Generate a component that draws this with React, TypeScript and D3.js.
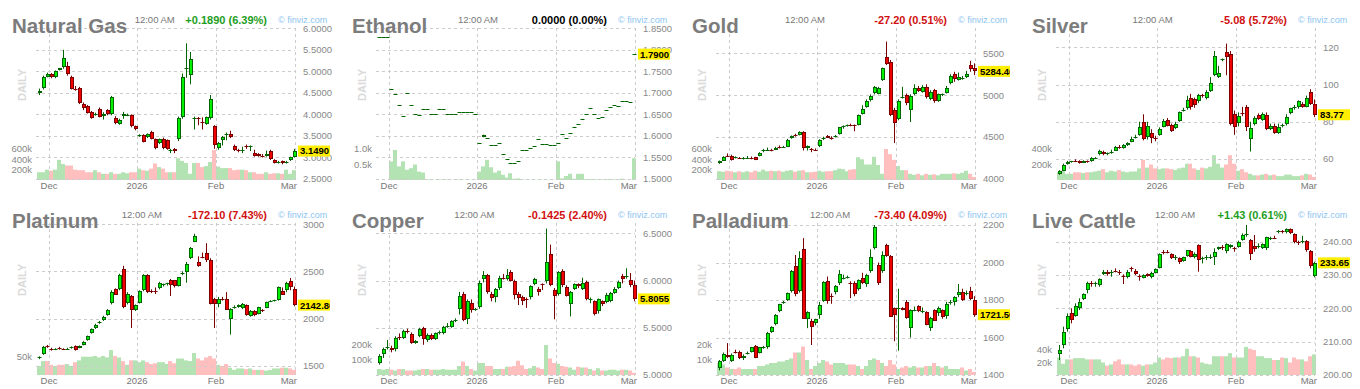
import React from 'react';
import * as d3 from 'd3';

type OHLC = [number, number, number, number];

// trading-day index of the first session in each month shown on the x axis
const monthLabels = ['Dec', '2026', 'Feb', 'Mar'];
const monthIndex = [3, 25, 45, 64];

// ---------- Natural Gas ----------
const natGasCandles: OHLC[] = [
  [4.50, 4.60, 4.45, 4.55], [4.62, 4.90, 4.58, 4.86], [4.88, 4.97, 4.86, 4.94], [4.93, 4.96, 4.84, 4.87],
  [4.86, 5.02, 4.84, 5.00], [5.04, 5.08, 5.02, 5.07], [5.10, 5.50, 5.06, 5.30], [5.12, 5.22, 4.90, 4.93],
  [4.88, 4.90, 4.58, 4.60], [4.60, 4.66, 4.55, 4.58], [4.62, 4.64, 4.24, 4.26], [4.25, 4.28, 4.10, 4.14],
  [4.20, 4.22, 4.02, 4.04], [4.05, 4.08, 3.90, 3.92], [3.99, 4.04, 3.97, 4.02], [4.12, 4.16, 3.93, 3.95],
  [3.97, 4.05, 3.88, 4.00], [4.10, 4.12, 3.98, 4.02], [4.02, 4.43, 3.98, 4.41], [3.92, 3.96, 3.77, 3.79],
  [3.78, 3.90, 3.76, 3.88], [3.97, 4.06, 3.90, 4.00], [3.99, 4.02, 3.96, 3.99], [3.99, 4.00, 3.70, 3.72],
  [3.72, 3.74, 3.63, 3.65], [3.52, 3.54, 3.48, 3.52], [3.52, 3.54, 3.35, 3.37], [3.47, 3.56, 3.45, 3.54],
  [3.58, 3.62, 3.42, 3.44], [3.42, 3.44, 3.19, 3.21], [3.33, 3.44, 3.31, 3.42], [3.42, 3.46, 3.19, 3.21],
  [3.40, 3.42, 3.18, 3.20], [3.16, 3.20, 3.10, 3.17], [3.20, 3.22, 3.10, 3.16], [3.44, 3.95, 3.38, 3.91],
  [3.95, 4.95, 3.90, 4.88], [5.06, 5.65, 4.85, 5.08], [4.92, 5.45, 4.70, 5.28], [3.91, 3.95, 3.65, 3.92],
  [3.92, 3.94, 3.75, 3.90], [3.82, 3.93, 3.65, 3.79], [3.78, 3.95, 3.76, 3.93], [3.91, 4.45, 3.88, 4.36],
  [3.73, 3.75, 3.20, 3.29], [3.21, 3.36, 3.18, 3.33], [3.40, 3.50, 3.28, 3.48], [3.52, 3.58, 3.40, 3.54],
  [3.54, 3.62, 3.45, 3.47], [3.26, 3.30, 3.15, 3.17], [3.17, 3.20, 3.12, 3.15], [3.16, 3.25, 3.10, 3.17],
  [3.26, 3.30, 3.20, 3.25], [3.25, 3.28, 3.15, 3.26], [3.10, 3.18, 3.02, 3.04], [3.08, 3.10, 3.02, 3.04],
  [3.04, 3.08, 3.00, 3.03], [3.04, 3.16, 3.02, 3.07], [3.16, 3.18, 2.94, 2.96], [2.94, 2.96, 2.86, 2.88],
  [2.88, 2.92, 2.86, 2.89], [2.91, 2.93, 2.84, 2.87], [2.88, 2.92, 2.86, 2.89], [2.94, 3.02, 2.92, 3.00],
  [3.02, 3.20, 3.00, 3.149],
];
const natGasVolume = [
  150, 150, 200, 180, 200, 390, 310, 280, 280, 200, 190, 190, 150, 150, 190, 150, 120, 120, 150, 120, 120, 150, 130, 150, 150,
  220, 190, 180, 220, 320, 250, 220, 150, 150, 150, 420, 370, 330, 120, 330, 330, 250, 270, 350,
  580, 260, 230, 230, 230, 190, 200, 200, 190, 150, 150, 120, 120, 150, 120, 130, 130, 120, 200, 120, 190,
];
const natGasTicks = [2.5, 3.0, 3.5, 4.0, 4.5, 5.0, 5.5, 6.0];
const natGasVolTicks = [200, 400, 600];

// ---------- Ethanol ----------
const ethanolCandles: OHLC[] = [
  [1.829, 1.829, 1.829, 1.829], [1.829, 1.829, 1.829, 1.829], [1.829, 1.829, 1.829, 1.829], [1.710, 1.710, 1.710, 1.710],
  [1.697, 1.697, 1.697, 1.697], [1.672, 1.672, 1.672, 1.672], [1.647, 1.647, 1.647, 1.647], [1.700, 1.700, 1.700, 1.700],
  [1.673, 1.673, 1.673, 1.673], [1.650, 1.650, 1.650, 1.650], [1.648, 1.648, 1.648, 1.648], [1.662, 1.662, 1.662, 1.662],
  [1.662, 1.662, 1.662, 1.662], [1.652, 1.652, 1.652, 1.652], [1.652, 1.652, 1.652, 1.652], [1.662, 1.662, 1.662, 1.662],
  [1.662, 1.662, 1.662, 1.662], [1.652, 1.652, 1.652, 1.652], [1.650, 1.650, 1.650, 1.650], [1.650, 1.650, 1.650, 1.650],
  [1.655, 1.655, 1.655, 1.655], [1.655, 1.655, 1.655, 1.655], [1.655, 1.655, 1.655, 1.655], [1.655, 1.655, 1.655, 1.655],
  [1.652, 1.652, 1.652, 1.652], [1.583, 1.583, 1.583, 1.583], [1.597, 1.603, 1.597, 1.602], [1.595, 1.595, 1.595, 1.595],
  [1.580, 1.580, 1.580, 1.580], [1.580, 1.580, 1.580, 1.580], [1.584, 1.584, 1.584, 1.584], [1.557, 1.557, 1.557, 1.557],
  [1.546, 1.546, 1.546, 1.546], [1.536, 1.536, 1.536, 1.536], [1.536, 1.536, 1.536, 1.536], [1.542, 1.542, 1.542, 1.542],
  [1.567, 1.567, 1.567, 1.567], [1.567, 1.567, 1.567, 1.567], [1.571, 1.571, 1.571, 1.571], [1.577, 1.577, 1.577, 1.577],
  [1.592, 1.592, 1.592, 1.592], [1.581, 1.581, 1.581, 1.581], [1.581, 1.581, 1.581, 1.581], [1.578, 1.578, 1.578, 1.578],
  [1.578, 1.578, 1.578, 1.578], [1.583, 1.583, 1.583, 1.583], [1.604, 1.604, 1.604, 1.604], [1.596, 1.596, 1.596, 1.596],
  [1.606, 1.606, 1.606, 1.606], [1.620, 1.620, 1.620, 1.620], [1.628, 1.628, 1.628, 1.628], [1.640, 1.640, 1.640, 1.640],
  [1.650, 1.650, 1.650, 1.650], [1.664, 1.664, 1.664, 1.664], [1.650, 1.650, 1.650, 1.650], [1.642, 1.642, 1.642, 1.642],
  [1.643, 1.643, 1.643, 1.643], [1.661, 1.661, 1.661, 1.661], [1.667, 1.667, 1.667, 1.667], [1.672, 1.672, 1.672, 1.672],
  [1.669, 1.669, 1.669, 1.669], [1.681, 1.681, 1.681, 1.681], [1.681, 1.681, 1.681, 1.681], [1.678, 1.678, 1.678, 1.678],
  [1.790, 1.790, 1.790, 1.790],
];
const ethanolVolume = [
  0, 0, 0, 0.6, 0.97, 0.44, 0.6, 0.33, 0.38, 0.5, 0.27, 0.24, 0.02, 0.02, 0.01, 0.02, 0.01, 0.02, 0.01, 0.01, 0.02, 0.01, 0.01, 0.01, 0.01,
  0.27, 0.44, 0.65, 0.41, 0.24, 0.3, 0.17, 0.08, 0.22, 0.04, 0.05, 0.02, 0.01, 0.01, 0.01, 0.01, 0.01, 0.01, 0.01, 0.01,
  0.6, 0.05, 0.13, 0.2, 0.04, 0.2, 0.2, 0.03, 0.03, 0.02, 0.02, 0.02, 0.02, 0.03, 0.02, 0.02, 0.04, 0.01, 0.01, 0.7,
];
const ethanolTicks = [1.5, 1.55, 1.6, 1.65, 1.7, 1.75, 1.8, 1.85];
const ethanolVolTicks = [0.5, 1.0];

// ---------- Gold ----------
const goldCandles: OHLC[] = [
  [4190, 4220, 4180, 4215], [4220, 4272, 4215, 4266], [4280, 4305, 4262, 4275], [4275, 4290, 4220, 4228],
  [4255, 4270, 4245, 4260], [4252, 4262, 4240, 4245], [4240, 4262, 4232, 4250], [4250, 4275, 4240, 4255],
  [4255, 4268, 4235, 4240], [4260, 4265, 4225, 4230], [4280, 4320, 4270, 4310], [4330, 4360, 4320, 4345],
  [4345, 4375, 4335, 4350], [4350, 4360, 4330, 4338], [4350, 4385, 4345, 4370], [4380, 4400, 4365, 4375],
  [4375, 4395, 4370, 4385], [4385, 4480, 4380, 4470], [4490, 4520, 4480, 4515], [4525, 4540, 4505, 4515],
  [4530, 4570, 4520, 4555], [4560, 4570, 4340, 4370], [4365, 4400, 4340, 4390], [4360, 4370, 4320, 4355],
  [4350, 4365, 4335, 4340], [4390, 4475, 4380, 4465], [4475, 4505, 4465, 4495], [4515, 4525, 4490, 4495],
  [4490, 4510, 4470, 4485], [4500, 4525, 4495, 4515], [4540, 4620, 4530, 4615], [4615, 4640, 4600, 4630],
  [4635, 4650, 4625, 4645], [4650, 4660, 4630, 4645], [4645, 4650, 4570, 4630], [4650, 4770, 4640, 4760],
  [4780, 4880, 4770, 4840], [4860, 4950, 4850, 4925], [4940, 5010, 4925, 4995], [5025, 5110, 5010, 5095],
  [5020, 5100, 5010, 5090], [5180, 5330, 5170, 5320], [5450, 5640, 5360, 5375], [5400, 5420, 4750, 4765],
  [4820, 4850, 4430, 4665], [4720, 4950, 4700, 4935], [4970, 5100, 4960, 4975], [5000, 5020, 4880, 4910],
  [4825, 5010, 4680, 4990], [5020, 5130, 5000, 5080], [5090, 5110, 5040, 5050], [5040, 5120, 5030, 5095],
  [5100, 5130, 4960, 4975], [4950, 5060, 4940, 5040], [5060, 5075, 4910, 4925], [4925, 5020, 4920, 5010],
  [5000, 5020, 4990, 5010], [5030, 5110, 5020, 5090], [5140, 5250, 5130, 5230], [5250, 5280, 5160, 5190],
  [5185, 5270, 5175, 5220], [5200, 5230, 5185, 5205], [5215, 5290, 5205, 5255], [5355, 5410, 5280, 5310],
  [5330, 5380, 5240, 5284.4],
];
const goldVolume = [
  170, 160, 180, 170, 150, 170, 150, 170, 150, 180, 160, 200, 170, 180, 170, 180, 160, 180, 190, 160, 180, 190, 150, 150, 160,
  180, 160, 170, 170, 190, 220, 210, 170, 200, 210, 440, 400, 300, 300, 450, 290, 120, 600, 500, 390,
  270, 190, 190, 120, 100, 120, 90, 120, 100, 110, 90, 120, 120, 120, 130, 120, 140, 180, 120, 60,
];
const goldTicks = [4000, 4500, 5000, 5500];
const goldVolTicks = [200, 400, 600];

// ---------- Silver ----------
const silverCandles: OHLC[] = [
  [52.0, 54.0, 51.5, 53.6], [53.8, 57.5, 53.5, 56.8], [57.3, 59.0, 57.0, 58.6], [58.4, 59.0, 58.0, 58.7],
  [59.0, 59.8, 58.5, 58.9], [58.8, 59.3, 57.5, 57.9], [58.0, 59.3, 57.8, 58.9], [58.8, 59.2, 58.0, 58.5],
  [58.9, 61.0, 58.5, 60.4], [60.4, 61.0, 60.0, 60.6], [62.5, 65.0, 62.0, 64.3], [64.0, 64.5, 62.0, 62.5],
  [62.5, 63.5, 62.0, 63.0], [63.0, 65.0, 62.8, 64.0], [64.5, 67.0, 64.3, 66.6], [66.6, 67.5, 65.5, 65.7],
  [65.7, 68.0, 65.5, 67.5], [67.5, 69.0, 67.0, 68.5], [69.3, 72.0, 69.0, 71.0], [71.5, 73.0, 71.0, 72.0],
  [72.9, 80.0, 72.5, 77.4], [79.7, 84.0, 70.0, 70.6], [72.0, 80.0, 70.5, 77.7], [74.2, 76.0, 68.5, 71.1],
  [71.2, 72.5, 69.5, 71.0], [72.9, 77.0, 72.5, 76.0], [77.4, 81.5, 77.0, 80.5], [81.0, 82.0, 77.5, 77.7],
  [78.0, 79.0, 74.5, 75.2], [76.5, 80.0, 76.0, 79.0], [80.6, 85.5, 80.0, 85.1], [86.0, 87.5, 85.5, 86.5],
  [87.2, 94.0, 86.5, 91.7], [93.0, 95.0, 86.5, 87.8], [92.0, 93.0, 87.5, 89.0], [91.0, 95.0, 90.0, 94.4],
  [94.2, 95.0, 93.0, 93.8], [92.5, 97.0, 92.0, 95.8], [96.7, 104.0, 96.0, 101.0], [105.0, 118.0, 104.5, 115.3],
  [104.2, 110.0, 103.5, 106.3], [113.0, 114.0, 112.5, 113.5], [117.3, 122.0, 105.0, 115.0], [116.4, 118.0, 78.0, 78.8],
  [84.2, 86.0, 73.0, 77.4], [79.5, 85.0, 77.5, 83.0], [84.5, 88.0, 83.0, 84.3], [88.0, 89.0, 75.0, 77.0],
  [70.5, 80.0, 64.0, 76.5], [78.8, 83.0, 78.0, 81.8], [83.4, 84.5, 81.0, 81.3], [81.0, 85.0, 80.5, 84.0],
  [83.7, 85.0, 75.5, 76.0], [76.0, 79.0, 75.5, 77.7], [77.7, 79.0, 73.5, 74.2], [74.2, 79.0, 73.5, 77.4],
  [77.5, 79.0, 77.0, 78.0], [78.8, 84.0, 78.0, 82.7], [84.8, 87.5, 84.0, 87.2], [87.5, 89.0, 86.5, 87.8],
  [87.8, 91.5, 87.0, 91.1], [89.8, 90.5, 87.5, 88.1], [88.0, 94.0, 87.8, 93.0], [95.8, 97.5, 89.0, 89.5],
  [89.3, 92.0, 82.5, 83.77],
];
const silverVolume = [
  100, 120, 80, 80, 100, 100, 90, 100, 100, 110, 120, 140, 100, 120, 110, 130, 110, 100, 110, 110, 150, 260, 160, 200, 150,
  140, 150, 150, 140, 130, 150, 160, 210, 210, 150, 130, 160, 150, 170, 320, 210, 160, 200, 320, 210,
  120, 140, 100, 80, 60, 60, 70, 80, 60, 70, 50, 50, 70, 70, 50, 50, 60, 80, 70, 40,
];
const silverTicks = [60, 80, 100, 120];
const silverVolTicks = [200, 400];

// ---------- Platinum ----------
const platinumCandles: OHLC[] = [
  [1580, 1600, 1570, 1590], [1620, 1710, 1615, 1700], [1705, 1720, 1690, 1695], [1680, 1690, 1660, 1670],
  [1675, 1685, 1665, 1676], [1690, 1700, 1670, 1680], [1676, 1685, 1670, 1675], [1675, 1690, 1668, 1678],
  [1683, 1705, 1680, 1700], [1710, 1715, 1660, 1665], [1690, 1715, 1685, 1710], [1720, 1760, 1715, 1754],
  [1772, 1820, 1765, 1815], [1845, 1895, 1840, 1885], [1895, 1945, 1890, 1935], [1950, 1975, 1945, 1965],
  [1980, 2030, 1975, 2020], [2035, 2100, 2030, 2095], [2160, 2300, 2150, 2285], [2310, 2320, 2250, 2255],
  [2310, 2475, 2300, 2465], [2530, 2560, 2110, 2125], [2170, 2280, 2150, 2260], [2240, 2250, 1900, 2090],
  [2090, 2150, 2080, 2140], [2170, 2300, 2160, 2290], [2300, 2470, 2290, 2460], [2460, 2470, 2270, 2285],
  [2290, 2310, 2270, 2280], [2295, 2330, 2260, 2290], [2320, 2390, 2310, 2380], [2355, 2370, 2340, 2365],
  [2365, 2380, 2350, 2375], [2405, 2420, 2240, 2355], [2405, 2410, 2330, 2345], [2350, 2440, 2340, 2440],
  [2475, 2500, 2460, 2485], [2495, 2600, 2380, 2580], [2640, 2760, 2630, 2750], [2815, 2900, 2810, 2880],
  [2605, 2660, 2550, 2555], [2650, 2700, 2640, 2645], [2700, 2800, 2600, 2620], [2620, 2640, 2150, 2155],
  [2210, 2220, 1900, 2150], [2150, 2230, 2120, 2210], [2210, 2230, 2190, 2200], [2210, 2280, 2090, 2090],
  [2000, 2110, 1830, 2100], [2120, 2140, 2105, 2125], [2125, 2150, 2115, 2140], [2110, 2165, 2100, 2150],
  [2140, 2150, 2030, 2040], [2030, 2090, 2020, 2080], [2085, 2090, 2025, 2035], [2050, 2125, 2045, 2120],
  [2090, 2100, 2070, 2085], [2115, 2180, 2110, 2175], [2180, 2195, 2175, 2185], [2185, 2200, 2180, 2195],
  [2195, 2340, 2190, 2335], [2290, 2330, 2250, 2255], [2300, 2390, 2280, 2375], [2395, 2430, 2300, 2330],
  [2310, 2340, 2130, 2142.8],
];
const platinumVolume = [
  25, 38, 38, 28, 25, 28, 28, 30, 25, 35, 40, 50, 50, 50, 52, 48, 52, 48, 68, 52, 48, 38, 28, 40, 40,
  35, 40, 35, 30, 32, 35, 35, 30, 38, 32, 45, 45, 40, 38, 60, 45, 40, 48, 52, 45,
  28, 25, 30, 20, 14, 18, 18, 16, 18, 14, 14, 14, 12, 14, 18, 18, 20, 20, 18, 14,
];
const platinumTicks = [1500, 2000, 2500, 3000];
const platinumVolTicks = [50];

// ---------- Copper ----------
const copperCandles: OHLC[] = [
  [5.13, 5.22, 5.11, 5.20], [5.22, 5.29, 5.18, 5.28], [5.29, 5.37, 5.27, 5.30], [5.29, 5.31, 5.24, 5.26],
  [5.27, 5.41, 5.25, 5.39], [5.40, 5.44, 5.37, 5.39], [5.39, 5.48, 5.38, 5.47], [5.47, 5.49, 5.44, 5.46],
  [5.43, 5.45, 5.33, 5.34], [5.34, 5.37, 5.33, 5.36], [5.41, 5.50, 5.40, 5.49], [5.50, 5.51, 5.32, 5.38],
  [5.37, 5.44, 5.35, 5.42], [5.42, 5.44, 5.37, 5.38], [5.38, 5.45, 5.37, 5.44], [5.44, 5.47, 5.43, 5.45],
  [5.44, 5.52, 5.43, 5.51], [5.51, 5.55, 5.50, 5.52], [5.51, 5.58, 5.50, 5.57], [5.57, 5.60, 5.56, 5.58],
  [5.70, 5.88, 5.64, 5.84], [5.86, 5.88, 5.57, 5.58], [5.59, 5.80, 5.54, 5.78], [5.76, 5.80, 5.66, 5.69],
  [5.69, 5.71, 5.68, 5.70], [5.72, 6.00, 5.70, 5.97], [6.02, 6.10, 5.98, 6.06], [6.06, 6.07, 5.86, 5.88],
  [5.86, 5.88, 5.78, 5.81], [5.83, 5.92, 5.77, 5.91], [5.92, 6.05, 5.90, 6.03], [6.03, 6.07, 6.01, 6.02],
  [6.02, 6.12, 6.00, 6.06], [6.09, 6.11, 5.99, 6.00], [5.99, 6.01, 5.80, 5.85], [5.86, 5.88, 5.74, 5.81],
  [5.83, 5.84, 5.74, 5.78], [5.80, 5.82, 5.71, 5.79], [5.83, 5.95, 5.80, 5.94], [5.96, 6.03, 5.95, 6.02],
  [5.91, 5.93, 5.84, 5.88], [5.96, 5.97, 5.90, 5.95], [6.00, 6.55, 5.97, 6.20], [6.28, 6.38, 5.94, 5.95],
  [5.90, 5.92, 5.59, 5.84], [5.86, 6.10, 5.84, 6.09], [6.10, 6.12, 5.93, 5.95], [5.93, 5.95, 5.83, 5.84],
  [5.75, 5.89, 5.62, 5.88], [5.91, 5.97, 5.90, 5.96], [5.96, 5.97, 5.92, 5.94], [5.91, 6.03, 5.90, 5.97],
  [5.98, 6.00, 5.79, 5.80], [5.79, 5.82, 5.76, 5.80], [5.78, 5.79, 5.63, 5.65], [5.68, 5.81, 5.65, 5.80],
  [5.78, 5.79, 5.73, 5.75], [5.77, 5.87, 5.76, 5.85], [5.78, 5.88, 5.77, 5.87], [5.87, 5.93, 5.86, 5.91],
  [5.92, 6.00, 5.91, 5.98], [6.05, 6.07, 5.97, 6.02], [6.04, 6.13, 6.02, 6.05], [6.01, 6.08, 5.93, 5.95],
  [5.95, 6.00, 5.78, 5.8055],
];
const copperVolume = [
  40, 35, 40, 35, 30, 40, 40, 30, 30, 30, 35, 40, 40, 35, 35, 35, 40, 35, 35, 35, 60, 90, 60, 40, 30,
  80, 80, 60, 60, 40, 40, 40, 55, 55, 60, 95, 65, 40, 45, 60, 50, 40, 200, 110, 80,
  75, 60, 55, 50, 35, 55, 50, 50, 40, 30, 45, 30, 30, 35, 35, 30, 35, 35, 30, 15,
];
const copperTicks = [5.0, 5.5, 6.0, 6.5];
const copperVolTicks = [100, 200];

// ---------- Palladium ----------
const palladiumCandles: OHLC[] = [
  [1440, 1480, 1425, 1475], [1475, 1520, 1470, 1510], [1505, 1570, 1490, 1495], [1475, 1515, 1470, 1508],
  [1525, 1535, 1515, 1522], [1525, 1530, 1485, 1490], [1490, 1510, 1480, 1503], [1518, 1525, 1510, 1520],
  [1523, 1550, 1520, 1547], [1555, 1560, 1490, 1492], [1520, 1550, 1515, 1547], [1545, 1555, 1540, 1548],
  [1550, 1630, 1540, 1625], [1630, 1660, 1625, 1658], [1672, 1725, 1665, 1722], [1740, 1780, 1735, 1778],
  [1785, 1795, 1780, 1790], [1800, 1840, 1795, 1835], [1850, 1960, 1840, 1955], [1980, 2040, 1820, 1830],
  [1850, 2060, 1840, 2025], [2070, 2130, 1700, 1700], [1700, 1740, 1650, 1735], [1690, 1700, 1560, 1655],
  [1675, 1700, 1665, 1700], [1720, 1790, 1700, 1775], [1795, 1900, 1790, 1895], [1900, 1925, 1780, 1795],
  [1820, 1835, 1780, 1818], [1845, 1880, 1830, 1875], [1890, 1960, 1880, 1940], [1915, 1935, 1910, 1920],
  [1920, 1930, 1915, 1925], [1890, 1900, 1810, 1885], [1890, 1900, 1820, 1830], [1860, 1910, 1850, 1905],
  [1918, 1945, 1885, 1890], [1885, 1940, 1870, 1935], [1955, 2070, 1945, 2030], [2075, 2200, 2070, 2190],
  [1985, 2000, 1880, 1890], [1955, 2060, 1945, 2040], [2095, 2100, 2030, 2035], [2035, 2040, 1710, 1712],
  [1755, 1760, 1580, 1720], [1750, 1860, 1530, 1758], [1755, 1762, 1745, 1748], [1790, 1800, 1700, 1705],
  [1650, 1750, 1600, 1745], [1745, 1765, 1740, 1748], [1767, 1772, 1735, 1740], [1738, 1760, 1730, 1742],
  [1735, 1740, 1665, 1668], [1650, 1710, 1635, 1705], [1745, 1750, 1690, 1690], [1730, 1765, 1715, 1760],
  [1745, 1750, 1700, 1710], [1715, 1790, 1700, 1780], [1785, 1800, 1775, 1792], [1790, 1820, 1770, 1815],
  [1825, 1885, 1815, 1840], [1840, 1860, 1795, 1800], [1830, 1850, 1825, 1835], [1850, 1870, 1800, 1805],
  [1800, 1820, 1710, 1721.5],
];
const palladiumVolume = [
  8, 7, 5, 4, 4, 5, 4, 4, 4, 4, 6, 6, 7, 8, 8, 9, 9, 10, 11, 15, 15, 19, 10, 4, 6,
  8, 10, 9, 7, 8, 8, 8, 7, 7, 7, 6, 4, 6, 10, 11, 10, 8, 6, 10, 7,
  4, 5, 6, 5, 6, 5, 5, 6, 6, 8, 6, 5, 6, 4, 4, 4, 5, 3, 4, 2,
];
const palladiumTicks = [1400, 1600, 1800, 2000, 2200];
const palladiumVolTicks = [10, 20];

// ---------- Live Cattle ----------
const cattleCandles: OHLC[] = [
  [206.2, 209.0, 204.5, 207.5], [209.0, 214.5, 208.0, 213.0], [213.8, 218.5, 213.0, 217.8], [218.5, 220.0, 215.5, 216.5],
  [217.8, 221.5, 217.5, 220.8], [220.2, 223.0, 219.5, 222.0], [222.8, 224.5, 222.5, 224.2], [225.5, 228.0, 224.5, 227.5],
  [227.6, 228.2, 226.5, 227.5], [227.5, 228.0, 226.5, 227.5], [227.0, 229.0, 226.5, 228.7], [230.2, 231.5, 230.0, 231.0],
  [231.0, 231.5, 229.8, 230.3], [230.5, 231.5, 229.5, 230.8], [231.3, 232.0, 230.8, 231.1], [231.0, 231.5, 230.0, 230.5],
  [229.8, 230.2, 227.3, 229.5], [229.5, 231.5, 229.0, 231.0], [232.0, 232.5, 231.0, 231.8], [231.3, 231.8, 230.0, 230.2],
  [229.8, 230.2, 228.3, 229.6], [229.2, 230.2, 229.0, 230.0], [230.2, 230.5, 229.5, 229.7], [229.5, 231.0, 229.0, 230.7],
  [230.7, 232.0, 230.5, 231.8], [232.2, 236.5, 232.0, 236.2], [236.8, 237.5, 236.2, 236.6], [237.0, 237.5, 236.5, 236.8],
  [236.2, 236.5, 234.8, 235.0], [235.0, 236.0, 234.5, 235.5], [235.0, 235.3, 233.3, 234.0], [234.3, 235.5, 234.0, 235.3],
  [235.8, 237.5, 235.5, 237.5], [237.3, 237.5, 235.3, 235.5], [235.3, 236.8, 235.0, 236.2], [239.0, 239.2, 231.0, 234.5],
  [235.0, 235.5, 233.5, 235.2], [235.2, 236.0, 234.5, 235.3], [235.3, 236.2, 234.8, 235.4], [235.5, 238.0, 233.0, 237.0],
  [237.8, 238.5, 237.5, 238.5], [238.3, 239.0, 237.5, 238.2], [237.2, 239.5, 236.5, 239.2], [238.5, 239.2, 238.0, 239.0],
  [238.0, 238.5, 237.0, 237.8], [238.5, 240.3, 238.2, 240.0], [240.5, 242.5, 240.3, 242.0], [242.3, 245.0, 241.5, 242.3],
  [240.5, 240.8, 234.5, 236.2], [238.7, 242.0, 237.0, 237.7], [238.8, 239.5, 238.0, 238.8], [238.2, 239.5, 237.8, 239.2],
  [238.0, 241.5, 237.5, 241.5], [241.2, 241.5, 240.5, 241.2], [241.2, 241.8, 240.8, 241.0], [243.0, 243.5, 242.5, 243.3],
  [243.2, 243.5, 242.5, 242.8], [242.8, 244.0, 242.5, 243.8], [243.7, 244.0, 242.3, 242.6], [242.2, 242.5, 239.5, 239.8],
  [239.9, 240.3, 239.0, 239.6], [240.0, 241.8, 239.5, 240.2], [240.2, 240.5, 237.0, 237.5], [237.2, 237.5, 232.0, 232.8],
  [229.8, 234.0, 229.3, 233.65],
];
const cattleVolume = [
  28, 18, 25, 25, 27, 27, 27, 25, 25, 25, 25, 20, 15, 17, 22, 25, 17, 17, 17, 15, 17, 15, 17, 17, 20,
  28, 25, 28, 27, 28, 28, 30, 42, 30, 30, 28, 20, 18, 17, 30, 30, 30, 30, 35, 28,
  28, 28, 45, 42, 40, 30, 30, 27, 27, 24, 24, 28, 27, 20, 28, 25, 25, 22, 30, 33,
];
const cattleTicks = [200, 210, 220, 230, 240];
const cattleVolTicks = [20, 40];

// ---------- layout ----------
const PANEL_W = 340;
const PANEL_H = 195;
const PLOT_LEFT = 36;
const PLOT_RIGHT = 295;
const PLOT_TOP = 28;
const PLOT_BOTTOM = 180;
const FONT = '"Liberation Sans", Arial, sans-serif';

const UP_FILL = '#00f000';
const UP_LINE = '#006400';
const DOWN_FILL = '#f00000';
const DOWN_LINE = '#7a0000';
const VOL_UP = '#b3e2b3';
const VOL_DOWN = '#ffbfbf';
const GRID = '#cccccc';

interface PanelDef {
  title: string;
  change: string;
  changeColor: string;
  candles: OHLC[];
  volume: number[];
  ticks: number[];
  decimals: number;
  priceRange: [number, number]; // pixel y of first / last tick
  volTicks: number[];
  volTopY: number; // pixel y of last volume tick
  volFmt: (v: number) => string;
  last: string;
}

const panels: PanelDef[] = [
  { title: 'Natural Gas', change: '+0.1890 (6.39%)', changeColor: '#1e9e1e', candles: natGasCandles, volume: natGasVolume,
    ticks: natGasTicks, decimals: 4, priceRange: [179, 28.3], volTicks: natGasVolTicks, volTopY: 149, volFmt: v => `${v}k`, last: '3.1490' },
  { title: 'Ethanol', change: '0.0000 (0.00%)', changeColor: '#000000', candles: ethanolCandles, volume: ethanolVolume,
    ticks: ethanolTicks, decimals: 4, priceRange: [179, 28.3], volTicks: ethanolVolTicks, volTopY: 149, volFmt: v => `${v.toFixed(1)}k`, last: '1.7900' },
  { title: 'Gold', change: '-27.20 (0.51%)', changeColor: '#d01010', candles: goldCandles, volume: goldVolume,
    ticks: goldTicks, decimals: 0, priceRange: [179, 53.3], volTicks: goldVolTicks, volTopY: 149, volFmt: v => `${v}k`, last: '5284.40' },
  { title: 'Silver', change: '-5.08 (5.72%)', changeColor: '#d01010', candles: silverCandles, volume: silverVolume,
    ticks: silverTicks, decimals: 0, priceRange: [159, 47.3], volTicks: silverVolTicks, volTopY: 149, volFmt: v => `${v}k`, last: '83.77' },
  { title: 'Platinum', change: '-172.10 (7.43%)', changeColor: '#d01010', candles: platinumCandles, volume: platinumVolume,
    ticks: platinumTicks, decimals: 0, priceRange: [170.7, 29.3], volTicks: platinumVolTicks, volTopY: 161.7, volFmt: v => `${v}k`, last: '2142.80' },
  { title: 'Copper', change: '-0.1425 (2.40%)', changeColor: '#d01010', candles: copperCandles, volume: copperVolume,
    ticks: copperTicks, decimals: 4, priceRange: [180, 38.3], volTicks: copperVolTicks, volTopY: 150, volFmt: v => `${v}k`, last: '5.8055' },
  { title: 'Palladium', change: '-73.40 (4.09%)', changeColor: '#d01010', candles: palladiumCandles, volume: palladiumVolume,
    ticks: palladiumTicks, decimals: 0, priceRange: [180, 30], volTicks: palladiumVolTicks, volTopY: 150, volFmt: v => `${v}k`, last: '1721.50' },
  { title: 'Live Cattle', change: '+1.43 (0.61%)', changeColor: '#1e9e1e', candles: cattleCandles, volume: cattleVolume,
    ticks: cattleTicks, decimals: 2, priceRange: [180, 46.7], volTicks: cattleVolTicks, volTopY: 155, volFmt: v => `${v}k`, last: '233.65' },
];

const xScale = d3.scaleLinear().domain([0, 64]).range([38.7, 294.3]);
const cx = (i: number) => Math.round(xScale(i)) + 0.5;

// text width through a canvas, used to centre the time stamp between title and change
let measureCtx: CanvasRenderingContext2D | null = null;
function textWidth(text: string, font: string): number {
  if (!measureCtx) measureCtx = document.createElement('canvas').getContext('2d');
  if (!measureCtx) return text.length * 6;
  measureCtx.font = font;
  return measureCtx.measureText(text).width;
}

const Panel: React.FC<{ def: PanelDef; col: number; row: number }> = ({ def, col, row }) => {
  const ox = col * PANEL_W;
  const oy = row * PANEL_H;
  const t = def.ticks;
  const y = d3.scaleLinear().domain([t[0], t[t.length - 1]]).range(def.priceRange);
  const vt = def.volTicks;
  const v = d3.scaleLinear().domain([0, vt[vt.length - 1]]).range([PLOT_BOTTOM, def.volTopY]);
  const fmt = d3.format(`.${def.decimals}f`);
  const lastY = y(def.candles[def.candles.length - 1][3]);
  const clipId = `clip-${col}-${row}`;

  const gridX = monthIndex.map((idx, k) => (k === monthIndex.length - 1 ? PLOT_RIGHT : Math.round(xScale(idx)) - 2));

  const titleEnd = 12 + textWidth(def.title, `bold 20.5px "Liberation Sans"`);
  const changeStart = 267 - textWidth(def.change, `bold 11px "Liberation Sans"`);
  const timeX = (titleEnd + changeStart) / 2 - 1.5;

  return (
    <g transform={`translate(${ox},${oy})`} fontFamily={FONT}>
      <defs>
        <clipPath id={clipId}>
          <rect x={0} y={0} width={330} height={PANEL_H} />
        </clipPath>
      </defs>

      {/* volume */}
      {def.volume.map((vol, i) => {
        const [o, , , c] = def.candles[i];
        const top = v(vol);
        return (
          <rect key={`v${i}`} x={Math.round(xScale(i)) - 2} y={top} width={4} height={Math.max(0, PLOT_BOTTOM - top)}
            fill={c >= o ? VOL_UP : VOL_DOWN} />
        );
      })}

      {/* grid */}
      {t.filter(d => y(d) >= PLOT_TOP - 1 && y(d) <= PLOT_BOTTOM + 1).map(d => (
        <line key={`g${d}`} x1={PLOT_LEFT} x2={PLOT_RIGHT} y1={Math.round(y(d)) + 0.5} y2={Math.round(y(d)) + 0.5}
          stroke={GRID} strokeDasharray="3,3" />
      ))}
      {gridX.map((gx, k) => (
        <line key={`gx${k}`} x1={gx + 0.5} x2={gx + 0.5} y1={PLOT_TOP} y2={PLOT_BOTTOM} stroke={GRID} strokeDasharray="3,3" />
      ))}

      {/* candles */}
      {def.candles.map(([o, h, l, c], i) => {
        const up = c >= o;
        const line = up ? UP_LINE : DOWN_LINE;
        const fill = up ? UP_FILL : DOWN_FILL;
        const x = cx(i);
        const yTop = Math.round(y(Math.max(o, c)));
        const yBot = Math.round(y(Math.min(o, c)));
        return (
          <g key={`c${i}`}>
            <line x1={x} x2={x} y1={y(h)} y2={y(l)} stroke={line} strokeWidth={1} />
            {yBot - yTop < 2 ? (
              <line x1={x - 2} x2={x + 2} y1={yTop + 0.5} y2={yTop + 0.5} stroke={line} strokeWidth={1} />
            ) : (
              <rect x={x - 1} y={yTop + 0.5} width={3} height={yBot - yTop - 1} fill={fill} stroke={line} strokeWidth={1} />
            )}
          </g>
        );
      })}

      {/* y tick labels */}
      {t.map(d => (
        <text key={`t${d}`} x={303} y={y(d)} dy="0.35em" fontSize={9.5} fill="#888">{fmt(d)}</text>
      ))}

      {/* x labels */}
      {monthLabels.map((lab, k) => (
        <text key={`m${k}`} x={k === monthLabels.length - 1 ? 297 : gridX[k]} y={189}
          textAnchor={k === monthLabels.length - 1 ? 'end' : 'middle'} fontSize={9.5} fill="#777">{lab}</text>
      ))}

      {/* volume labels */}
      {vt.map(d => (
        <text key={`vl${d}`} x={32} y={v(d)} dy="0.35em" textAnchor="end" fontSize={9.5} fill="#888">{def.volFmt(d)}</text>
      ))}

      {/* DAILY */}
      <text transform="translate(26,85) rotate(-90)" textAnchor="middle" fontSize={11} fontWeight="bold" fill="#dadada">DAILY</text>

      {/* header */}
      <text x={12} y={33} fontSize={20.5} fontWeight="bold" fill="#7c7c7c">{def.title}</text>
      <text x={timeX} y={23} textAnchor="middle" fontSize={9.5} fill="#777">12:00 AM</text>
      <text x={267} y={24} textAnchor="end" fontSize={11} fontWeight="bold" fill={def.changeColor}>{def.change}</text>
      <text x={278} y={23} fontSize={9} fill="#8cc4f2">© finviz.com</text>

      {/* last price box */}
      <g clipPath={`url(#${clipId})`}>
        <rect x={298} y={lastY - 5.5} width={34} height={11} fill="#ffee00" />
        <text x={300} y={lastY} dy="0.36em" fontSize={9.5} fontWeight="bold" fill="#000">{def.last}</text>
      </g>
    </g>
  );
};

export default function App() {
  return (
    <svg width={1360} height={389} style={{ position: 'absolute', left: 0, top: 0, background: '#fff' }}>
      {panels.map((p, k) => (
        <Panel key={p.title} def={p} col={k % 4} row={Math.floor(k / 4)} />
      ))}
    </svg>
  );
}
